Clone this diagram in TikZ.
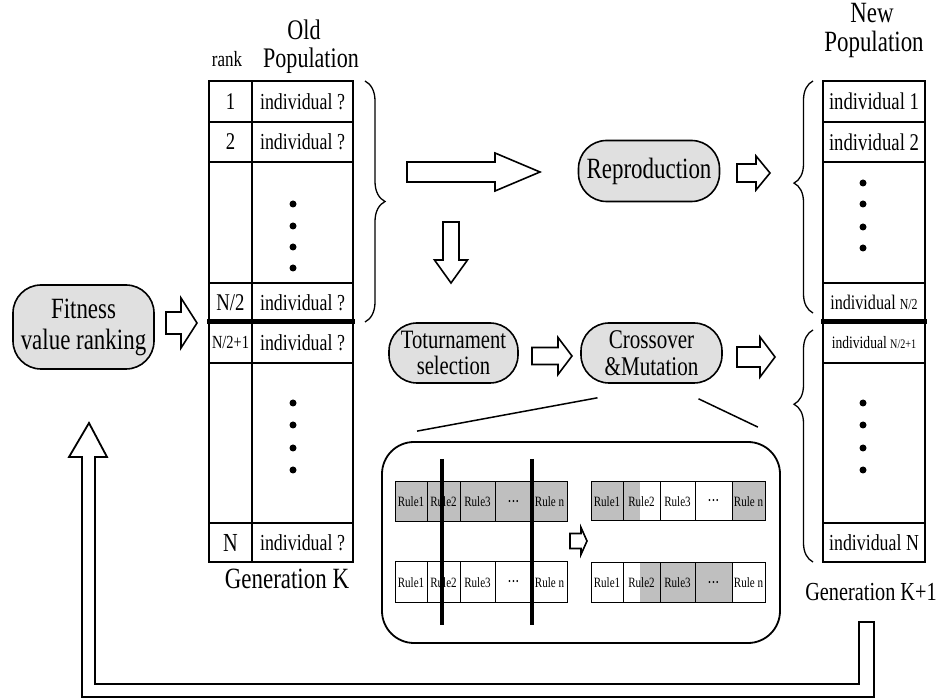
\documentclass[tikz,border=0pt]{standalone}
\usepackage{fontspec}
\setmainfont{Liberation Serif}[FakeStretch=0.78]
\usepackage{tikz}
\usetikzlibrary{calc,decorations.pathreplacing}

\newcommand{\fsz}[1]{\fontsize{#1}{#1}\selectfont}
\newcommand{\rdots}{{\fsz{9}\textbullet\,\textbullet\,\textbullet}}
\newcommand{\hollowarrow}[6]{%
  \draw[line width=1.6pt,shift={#1},rotate=#2] (0,-#4) -- ({#3-#6},-#4) -- ({#3-#6},-#5) -- (#3,0) -- ({#3-#6},#5) -- ({#3-#6},#4) -- (0,#4) -- cycle;}
\colorlet{procgray}{gray!24}
\colorlet{rulegray}{gray!50}

\begin{document}
\begin{tikzpicture}[x=1pt,y=-1pt]
\tikzstyle{proc}=[draw,line width=1.6pt,fill=procgray,rounded corners=28pt,align=center,inner sep=0pt]
\tikzstyle{cell}=[draw,line width=1.4pt,inner sep=0pt,outer sep=0pt]
\tikzstyle{rulecell}=[draw,line width=1pt,inner sep=0pt,outer sep=0pt,font=\fsz{14.2}]
\tikzstyle{bigdot}=[circle,fill=black,minimum size=7pt,inner sep=0pt]
\tikzstyle{curly}=[decorate,line width=1.3pt]
\tikzstyle{cut}=[line width=4pt]
\useasboundingbox (0,0) rectangle (938,700);

\node[proc,minimum width=141,minimum height=84,font={\fontsize{29.4}{31}\selectfont}] (fit) at (83.5,327) {Fitness\\value ranking};
\node[proc,minimum width=141,minimum height=61,font=\fsz{29.4}] (repro) at (649,171) {Reproduction};
\node[proc,minimum width=129,minimum height=60,font={\fontsize{26.5}{26.5}\selectfont}] (tour) at (453.5,353) {Toturnament\\selection};
\node[proc,minimum width=141,minimum height=60,font={\fontsize{27}{27}\selectfont}] (cross) at (651.5,353) {Crossover\\\&Mutation};

\node[font=\fsz{28.3},anchor=base] (oldh) at (304,40) {Old};
\node[font=\fsz{28.3},anchor=base] (oldp) at (311,68) {Population};
\node[font=\fsz{21.8},anchor=base] (rank) at (227,67) {rank};
\node[font=\fsz{29.4},anchor=base] (newh) at (872,23) {New};
\node[font=\fsz{29.4},anchor=base] (newp) at (874,52) {Population};
\node[font=\fsz{29.4},anchor=base] (genk) at (287,589) {Generation K};
\node[font=\fsz{26},anchor=base] (genk1) at (871,601) {Generation K+1};

\foreach \name/\y/\h/\txt in {
	r1/101.5/41/1,
	r2/142/40/2,
	r3/222.5/121/{},
	r4/302.5/39/{N/2},
	r5/342.5/41/{\fsz{18.5}N/2+1},
	r6/443/160/{},
	r7/542.5/39/{\fsz{26}N}}
	\node[cell,minimum width=43,minimum height=\h,font=\fsz{24}] (\name) at (230.5,\y) {\txt};
\foreach \name/\y/\h/\txt in {
	i1/101.5/41/{individual ?},
	i2/142/40/{individual ?},
	i3/222.5/121/{},
	i4/302.5/39/{individual ?},
	i5/342.5/41/{individual ?},
	i6/443/160/{},
	i7/542.5/39/{individual ?}}
	\node[cell,minimum width=101,minimum height=\h,font=\fsz{22.9}] (\name) at (302.5,\y) {\txt};
\foreach \name/\y/\h/\txt in {
	n1/101.5/41/{\fsz{24}individual 1},
	n2/142/40/{\fsz{24}individual 2},
	n3/222.5/121/{},
	n4/302.5/39/{\fsz{20.7}individual \fsz{15.3}N/2},
	n5/342.5/41/{\fsz{17.4}individual \fsz{13}N/2+1},
	n6/443/160/{},
	n7/542.5/39/{\fsz{22.9}individual N}}
	\node[cell,minimum width=102,minimum height=\h] (\name) at (874,\y) {\txt};

\foreach \y in {204,226,247,268,403,425,448,470}
	\node[bigdot] (od\y) at (293,\y) {};
\foreach \y in {183,204,227,248,403,425,448,470}
	\node[bigdot] (nd\y) at (863,\y) {};

\draw[line width=5pt] ($(r5.north west)+(-2,0)$) -- ($(i5.north east)+(2,0)$);
\draw[line width=5pt] ($(n5.north west)+(-2,0)$) -- ($(n5.north east)+(2,0)$);

\draw[curly,decoration={brace,amplitude=20pt}] (365,81) -- (365,322);
\draw[curly,decoration={brace,amplitude=19pt,aspect=0.56}] (813,313) -- (813,81);
\draw[curly,decoration={brace,amplitude=19pt,aspect=0.68}] (813,562) -- (813,330);

\hollowarrow{(166,323)}{0}{31}{11}{25}{16}
\hollowarrow{(407,172)}{0}{133}{10}{19}{45}
\hollowarrow{(451,222)}{-90}{61}{8}{16.5}{23}
\hollowarrow{(532,356)}{0}{40}{8.5}{18.5}{14}
\hollowarrow{(737,173)}{0}{33}{9}{17}{14}
\hollowarrow{(737,357)}{0}{38}{10}{20}{15}

\node[draw,line width=1.8pt,rounded corners=32pt,minimum width=398,minimum height=201] (xbox) at (581,542.5) {};
\draw[line width=1.5pt] ($(cross.south)+(-54,14)$) -- ($(xbox.north west)+(36,-10)$);
\draw[line width=1.5pt] ($(cross.south)+(47,15)$) -- ($(xbox.north east)+(-23,-14)$);

\fill[rulegray] (623,482) rectangle (640,521);
\fill[rulegray] (640,563) rectangle (660,603);
\foreach \name/\x/\w/\txt/\c in {
	a1/411/32/Rule1/rulegray,
	a2/443.5/33/Rule2/rulegray,
	a3/477.5/35/Rule3/rulegray,
	a4/513.5/37/\rdots/rulegray,
	a5/549.5/35/Rule n/rulegray}
	\node[rulecell,minimum width=\w,minimum height=40,fill=\c] (\name) at (\x,502) {\txt};
\foreach \name/\x/\w/\txt/\c in {
	b1/411/32/Rule1/none,
	b2/443.5/33/Rule2/none,
	b3/477.5/35/Rule3/none,
	b4/513.5/37/\rdots/none,
	b5/549.5/35/Rule n/none}
	\node[rulecell,minimum width=\w,minimum height=41,fill=\c] (\name) at (\x,582.5) {\txt};
\foreach \name/\x/\w/\txt/\c in {
	c1/607/32/Rule1/rulegray,
	c2/641.5/37/Rule2/none,
	c3/677.5/35/Rule3/none,
	c4/713.5/37/\rdots/none,
	c5/748.5/33/Rule n/rulegray}
	\node[rulecell,minimum width=\w,minimum height=39,fill=\c] (\name) at (\x,501.5) {\txt};
\foreach \name/\x/\w/\txt/\c in {
	d1/607/32/Rule1/none,
	d2/641.5/37/Rule2/none,
	d3/677.5/35/Rule3/rulegray,
	d4/713.5/37/\rdots/rulegray,
	d5/748.5/33/Rule n/none}
	\node[rulecell,minimum width=\w,minimum height=40,fill=\c] (\name) at (\x,583) {\txt};

\draw[cut] ($(a2.center)+(-1.5,-43)$) -- ($(b2.center)+(-1.5,42.5)$);
\draw[cut] ($(a5.center)+(-17.5,-43)$) -- ($(b5.center)+(-17.5,42.5)$);
\hollowarrow{(570,541)}{0}{17}{7.5}{13.5}{6}

\coordinate (fbin) at (859,622);
\coordinate (fbout) at (874,622);
\draw[line width=1.8pt] (fbin) -- (859,684) -- (95,684) -- (95,457) -- (107,457) -- (89,423) -- (69,457) -- (82,457) -- (82,697) -- (874,697) -- (fbout) -- cycle;
\end{tikzpicture}
\end{document}
